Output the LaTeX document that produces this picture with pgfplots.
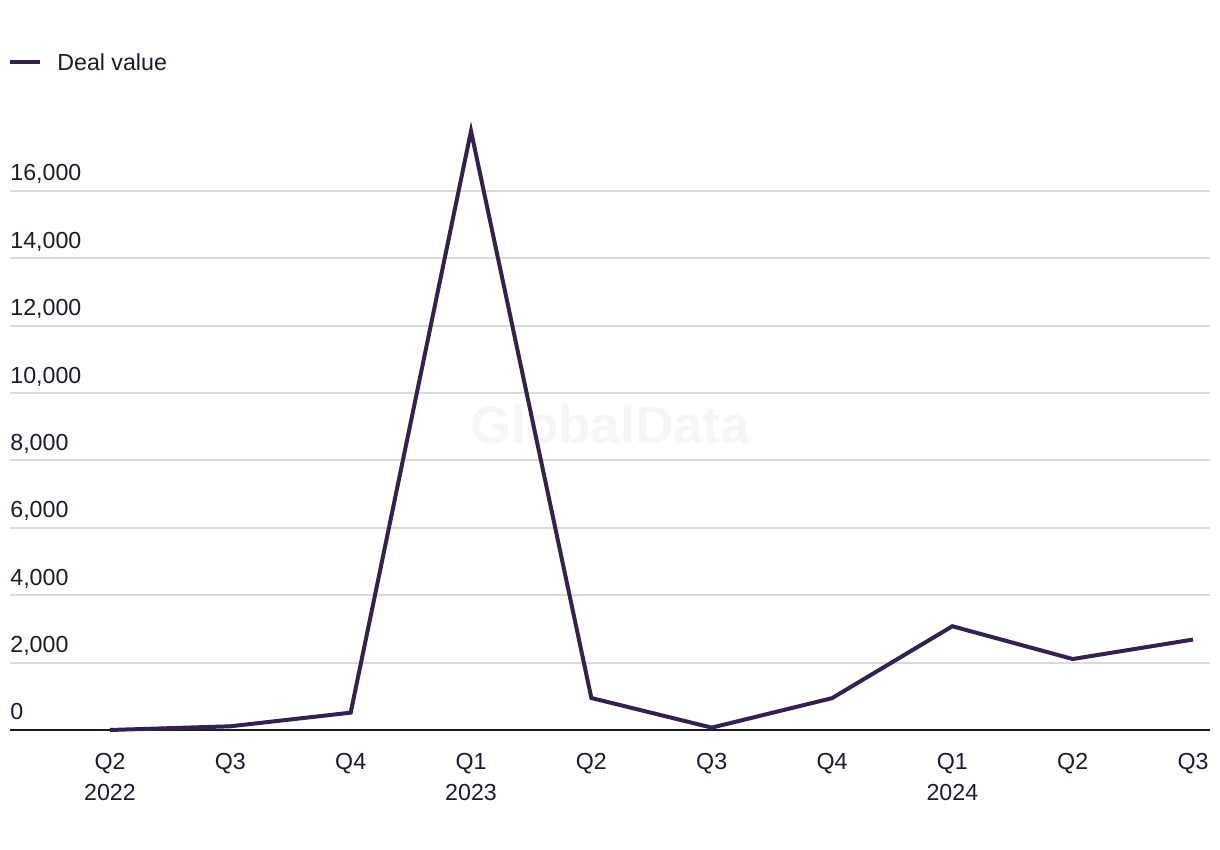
\documentclass[border=0pt]{standalone}
\usepackage{fontspec}
\setmainfont{Liberation Sans}
\usepackage{pgfplots}
\pgfplotsset{compat=1.18}
\definecolor{dealline}{HTML}{35214F}
\definecolor{gridgray}{HTML}{DADADA}
\definecolor{textnavy}{HTML}{1B1B2F}
\definecolor{wmark}{HTML}{F6F6F6}

\begin{document}
\begin{tikzpicture}
% 1px of the reference = 0.5pt
\useasboundingbox (-5pt,-60pt) rectangle (605pt,365pt);
\begin{axis}[
  at={(0,0)}, anchor=south west,
  scale only axis,
  width=600pt, height=269.5pt,
  xmin=-0.831, xmax=9.141,
  ymin=0, ymax=16000,
  clip=false,
  axis line style={draw=none},
  major tick length=0pt,
  font=\fontsize{11.6}{15.5}\selectfont,
  xtick={0,...,9},
  xticklabels={Q2\\2022, Q3, Q4, Q1\\2023, Q2, Q3, Q4, Q1\\2024, Q2, Q3},
  xticklabel style={align=center, text=textnavy, anchor=north, inner sep=0pt, yshift=-11.5pt},
  ytick={2000,4000,...,16000},
  extra y ticks={0},
  extra y tick style={grid style={textnavy, line width=1pt}},
  yticklabel style={text=textnavy, anchor=base west, inner sep=0pt, yshift=5pt},
  scaled y ticks=false,
  /pgf/number format/assume math mode=true,
  /pgf/number format/.cd, fixed, 1000 sep={,}, /pgfplots/.cd,
  ymajorgrids,
  grid style={gridgray, line width=1pt},
  legend style={draw=none, fill=none, at={(-0.0017,1.239)}, anchor=west, inner sep=0pt,
    font=\fontsize{11.6}{13}\selectfont, text=textnavy,
    nodes={inner sep=0pt, text depth=0pt}},
  legend cell align=left,
  legend image code/.code={\draw[#1, line width=2pt] (0pt,0pt) -- (15pt,0pt); \path (22.5pt,0pt);},
]
\node[text=wmark, font=\fontsize{26.5}{30}\bfseries, anchor=base] at (axis cs:4.155,8519) {GlobalData};
\addplot[dealline, line width=2pt] coordinates {
  (0,0) (1,110) (2,515) (3,17780) (4,950) (5,70) (6,945) (7,3080) (8,2107) (9,2685)
};
\legend{Deal value}
\end{axis}
\end{tikzpicture}
\end{document}
